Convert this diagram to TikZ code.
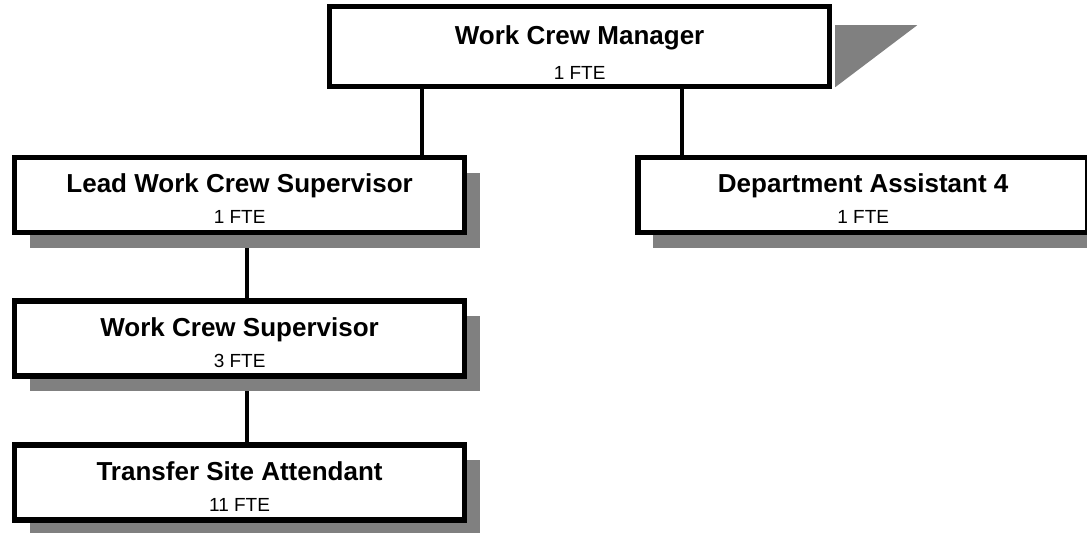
\documentclass[tikz,border=0pt]{standalone}
\usepackage{fontspec}
\setmainfont{Liberation Sans}
\usepackage{tikz}
\usetikzlibrary{positioning, shadows, backgrounds}
\definecolor{shadowgray}{HTML}{808080}
\newcommand{\fte}{\fontsize{13.5}{22}\selectfont\mdseries}
\newcommand{\toprule}[1]{\rule{0pt}{#1}}
\tikzset{
  post/.style={draw, fill=white, line width=0.14cm, minimum width=11.25cm,
    minimum height=1.875cm, inner sep=0pt, align=center,
    font=\fontsize{18.5}{22}\selectfont\bfseries},
  shaded post/.style={post, drop shadow={shadow xshift=0.375cm,
    shadow yshift=-0.375cm, fill=shadowgray, opacity=1}},
  link/.style={line width=0.09cm}
}

\begin{document}
\begin{tikzpicture}[node distance=1.575cm]
\useasboundingbox (0,0) rectangle (27.175,-13.3);
\node[post, minimum width=12.5cm, minimum height=2cm] (mgr) at (14.49,-1.16) {\toprule{22pt}Work Crew Manager\\[2.5pt]\fte 1 FTE};
\node[shaded post] (lead) at (5.99,-4.875) {\toprule{19pt}Lead Work Crew Supervisor\\\fte 1 FTE};
\node[shaded post, right=4.2cm of lead] (dept) {\toprule{19pt}Department Assistant 4\\\fte 1 FTE};
\node[shaded post, below=of lead] (wcs) {\toprule{19pt}Work Crew Supervisor\\\fte 3 FTE};
\node[shaded post, below=of wcs] (tsa) {\toprule{19pt}Transfer Site Attendant\\\fte 11 FTE};
% odd shadow of the top box
\fill[shadowgray] ([xshift=0.07cm, yshift=-0.54cm]mgr.north east) -- ++(2.05,0)
  -- ([xshift=0.07cm, yshift=0.05cm]mgr.south east) -- cycle;
\begin{scope}[on background layer]
\coordinate (lj) at ([xshift=4.56cm]lead.north);
\coordinate (dj) at ([xshift=-4.525cm]dept.north);
\draw[link] (lj) -- (lj |- mgr.south);
\draw[link] (dj) -- (dj |- mgr.south);
\draw[link] ([xshift=0.19cm]lead.south) -- ([xshift=0.19cm]wcs.north);
\draw[link] ([xshift=0.19cm]wcs.south) -- ([xshift=0.19cm]tsa.north);
\end{scope}
\end{tikzpicture}
\end{document}
